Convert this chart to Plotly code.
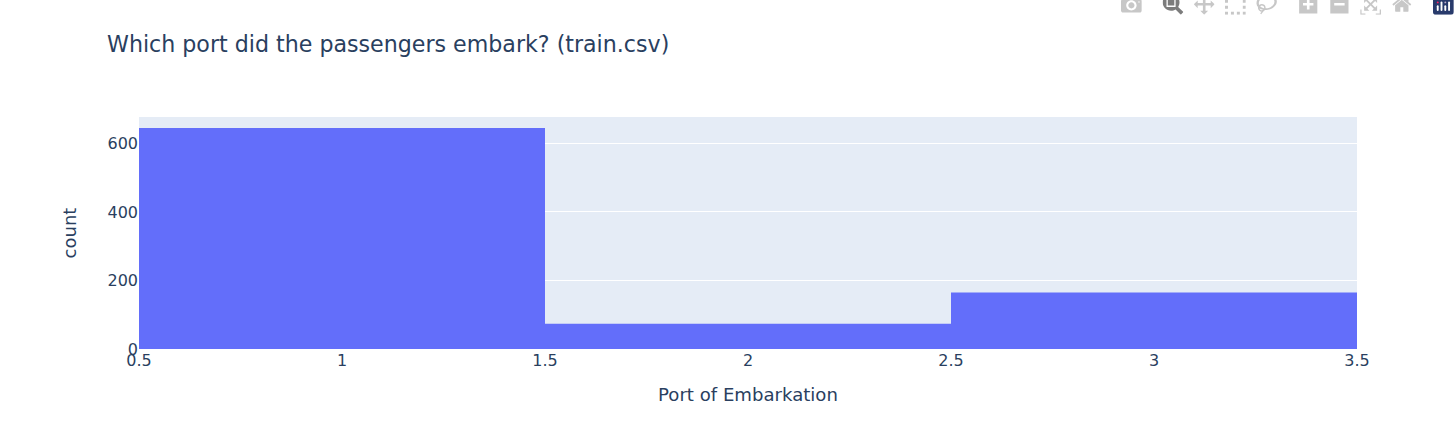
import plotly.graph_objects as go

ports = [1, 2, 3]
counts = [645, 74, 165]
title = "Which port did the passengers embark? (train.csv)"
x_label = "Port of Embarkation"
y_label = "count"

fig = go.Figure(go.Bar(x=ports, y=counts, width=1, marker_color="#636efa",
                       marker_line_width=0))
fig.update_layout(
    template="plotly",
    width=1456, height=423,
    margin=dict(l=139, r=99, t=117, b=74),
    font=dict(family="DejaVu Sans", size=14, color="#2a3f5f"),
    title=dict(text=title, x=107/1456, xanchor="left", y=0.896, yanchor="middle",
               font=dict(size=22.15)),
    xaxis=dict(title=dict(text=x_label, font=dict(size=18.1), standoff=19), range=[0.5, 3.5],
               dtick=0.5, tickfont=dict(size=16), automargin=False),
    yaxis=dict(title=dict(text=y_label, font=dict(size=18), standoff=26), range=[0, 677],
               dtick=200, tickfont=dict(size=16), automargin=False),
)
post = """
document.body.style.margin = '0';
var st = document.createElement('style');
st.textContent = '.modebar{transform:scale(1.3);transform-origin:top right;top:-10px !important;right:-3px !important;}'
  + '.modebar-btn--logo svg rect:first-of-type, .modebar-btn--logo svg .cls-1{fill:#283a6b !important;}';
document.head.appendChild(st);
"""
fig.write_html("out.html", config=dict(displayModeBar=True, displaylogo=True), post_script=post)
